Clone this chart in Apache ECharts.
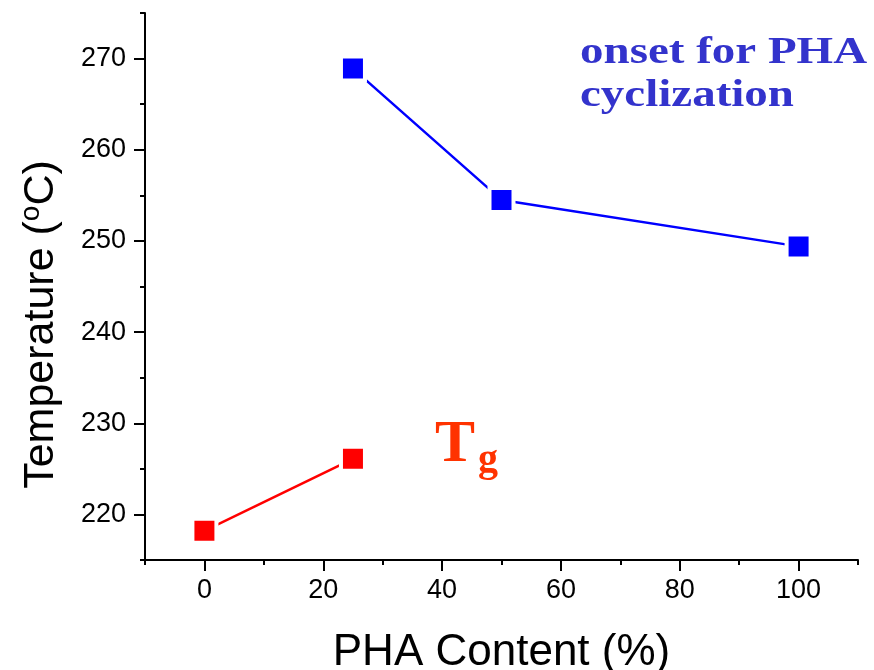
<!DOCTYPE html>
<html>
<head>
<meta charset="utf-8">
<script src="https://cdn.jsdelivr.net/npm/echarts@6/dist/echarts.min.js"></script>
<style>
  html, body { margin: 0; padding: 0; background: #fff; }
  #chart { width: 874px; height: 670px; }
</style>
</head>
<body>
<div id="chart"></div>
<script>
// PHA content (%) and temperatures (°C)
const onsetContent = [25, 50, 100];
const onsetTemp = [268.9, 254.5, 249.4];
const tgContent = [0, 25];
const tgTemp = [218.2, 226.1];

// axis ranges and tick positions
const xRange = [-10, 110];
const xMajor = [0, 20, 40, 60, 80, 100];
const xMinor = [-10, 10, 30, 50, 70, 90, 110];
const yRange = [215, 275];
const yMajor = [220, 230, 240, 250, 260, 270];
const yMinor = [215, 225, 235, 245, 255, 265, 275];

const chart = echarts.init(document.getElementById("chart"));

const FONT = "Liberation Sans, Arial";
const SERIF = "Liberation Serif, Times New Roman, serif";

function majorAxis(range, ticks, extra) {
  return Object.assign({
    type: "value",
    min: range[0],
    max: range[1],
    axisLine: { show: true, onZero: false, lineStyle: { color: "#000", width: 2 } },
    axisTick: { show: true, inside: false, length: 11, customValues: ticks, lineStyle: { color: "#000", width: 2 } },
    splitLine: { show: false }
  }, extra);
}

function minorAxis(range, ticks, pos) {
  return {
    type: "value",
    position: pos,
    min: range[0],
    max: range[1],
    axisLine: { show: false, onZero: false },
    axisTick: { show: true, inside: false, length: 5, customValues: ticks, lineStyle: { color: "#000", width: 2 } },
    axisLabel: { show: false },
    splitLine: { show: false }
  };
}

const option = {
  animation: false,
  grid: { left: 145, right: 16, top: 13, bottom: 110, outerBoundsMode: "none", containLabel: false },
  xAxis: [
    majorAxis(xRange, xMajor, {
      position: "bottom",
      axisLabel: { color: "#000", fontSize: 27, fontFamily: FONT, customValues: xMajor, margin: 17 },
      name: "PHA Content (%)",
      nameLocation: "middle",
      nameGap: 71,
      nameTextStyle: { color: "#000", fontFamily: FONT, fontSize: 44 }
    }),
    minorAxis(xRange, xMinor, "bottom")
  ],
  yAxis: [
    majorAxis(yRange, yMajor, {
      position: "left",
      axisLabel: { color: "#000", fontSize: 27, fontFamily: FONT, customValues: yMajor, margin: 19 },
      name: "{a|Temperature (}{s|o}{a|C)}",
      nameLocation: "middle",
      nameGap: 80,
      nameTextStyle: {
        color: "#000",
        fontFamily: FONT,
        padding: [0, 76, 0, 0],
        rich: {
          a: { fontSize: 43, fontFamily: FONT, color: "#000", lineHeight: 48 },
          s: { fontSize: 28, fontFamily: FONT, color: "#000", verticalAlign: "top", lineHeight: 30 }
        }
      }
    }),
    minorAxis(yRange, yMinor, "left")
  ],
  series: [
    {
      name: "onset",
      type: "line",
      xAxisIndex: 0,
      yAxisIndex: 0,
      data: onsetContent.map((x, i) => [x, onsetTemp[i]]),
      symbol: "rect",
      symbolSize: 24,
      lineStyle: { color: "#0000ff", width: 2.5 },
      itemStyle: { color: "#0000ff", borderColor: "#fff", borderWidth: 4 },
      z: 3
    },
    {
      name: "Tg",
      type: "line",
      xAxisIndex: 0,
      yAxisIndex: 0,
      data: tgContent.map((x, i) => [x, tgTemp[i]]),
      symbol: "rect",
      symbolSize: 24,
      lineStyle: { color: "#ff0000", width: 2.5 },
      itemStyle: { color: "#ff0000", borderColor: "#fff", borderWidth: 4 },
      z: 3
    }
  ],
  graphic: [
    {
      type: "text",
      x: 580,
      y: 32,
      scaleX: 1.27,
      style: {
        text: "onset for PHA\ncyclization",
        fill: "#3333cc",
        font: "bold 37px 'Liberation Serif', 'Times New Roman', serif",
        lineHeight: 43,
        verticalAlign: "top"
      }
    },
    {
      type: "text",
      left: 435,
      top: 415,
      style: {
        text: "{t|T}{g|g}",
        rich: {
          t: { fontSize: 60, fontWeight: "bold", fontFamily: SERIF, fill: "#ff3300", lineHeight: 66, verticalAlign: "top" },
          g: { fontSize: 40, fontWeight: "bold", fontFamily: SERIF, fill: "#ff3300", lineHeight: 66, verticalAlign: "bottom", padding: [0, 0, 0, 3] }
        }
      }
    }
  ]
};

chart.setOption(option);
</script>
</body>
</html>
